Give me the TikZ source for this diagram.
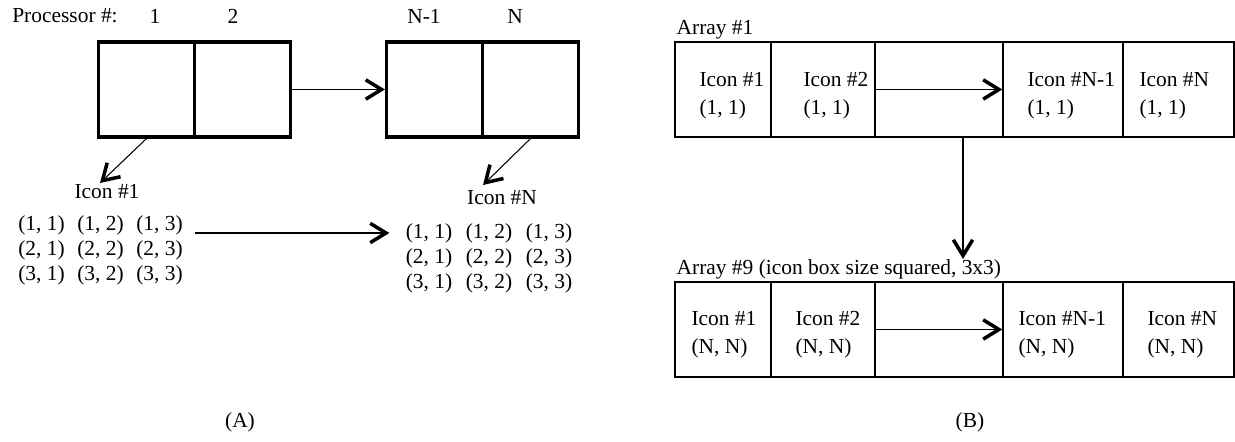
\documentclass[tikz,border=0pt]{standalone}
\usepackage{fontspec}
\setmainfont{Liberation Serif}
\usetikzlibrary{arrows.meta}
\tikzset{>={Straight Barb[length=9pt,width=11pt,line width=2pt]}}
\tikzset{
  procbox/.style={draw, line width=1.8pt, minimum width=1.92cm, minimum height=1.9cm, inner sep=0pt},
  cellbox/.style={draw, line width=0.75pt, minimum height=1.9cm, inner sep=0pt},
  celltext/.style={align=left, anchor=west, inner sep=0pt},
  arrlabel/.style={anchor=south west, inner sep=1pt},
}

\begin{document}
\begin{tikzpicture}[x=0.02cm, y=-0.02cm, font=\fontsize{12.2}{16}\selectfont, line width=0.6pt]
  \useasboundingbox (0,0) rectangle (1235,442);
  % (A) one icon per processor
  \node (proc) at (65,16) {Processor \#:};
  \node (n1) at (155,16) {1};
  \node (n2) at (233,16) {2};
  \node (nm) at (424,16) {N-1};
  \node (nn) at (515,16) {N};
  \node[procbox] (p1) at (146.5,89.5) {};
  \node[procbox] (p2) at (242.5,89.5) {};
  \node[procbox] (pm) at (434.5,89.5) {};
  \node[procbox] (pn) at (530.5,89.5) {};
  \draw[->] (p2.east) -- (pm.west);
  \node (ic1) at (107,192) {Icon \#1};
  \node (icn) at (502,198) {Icon \#N};
  \coordinate (t1) at (100,183);
  \coordinate (tn) at (483,185);
  \draw[->] (p1.south) -- (t1);
  \draw[->] (pn.south) -- (tn);
  \foreach \r in {1,2,3}
    \foreach \c in {1,2,3} {
      \node (a\r\c) at ({41.5+59*(\c-1)},{225+25*(\r-1)}) {(\r, \c)};
      \node (b\r\c) at ({429+60*(\c-1)},{233+25*(\r-1)}) {(\r, \c)};
    }
  \coordinate (s) at (195,233);
  \draw[->] (s) -- ([xshift=-0.2cm]b11.west);
  \node (capA) at (240,422) {(A)};
  % (B) one array per pixel of the icon
  \node[cellbox, minimum width=1.92cm] (c1) at (723,89.5) {};
  \node[cellbox, minimum width=2.08cm] (c2) at (823,89.5) {};
  \node[cellbox, minimum width=2.56cm] (c3) at (939,89.5) {};
  \node[cellbox, minimum width=2.40cm] (c4) at (1063,89.5) {};
  \node[cellbox, minimum width=2.22cm] (c5) at (1178.5,89.5) {};
  \node[arrlabel] (arr1) at (c1.north west) {Array \#1};
  \node[celltext] (c1t) at (699,96) {Icon \#1\\(1, 1)};
  \node[celltext] (c2t) at (803,96) {Icon \#2\\(1, 1)};
  \node[celltext] (c4t) at (1027,96) {Icon \#N-1\\(1, 1)};
  \node[celltext] (c5t) at (1139,96) {Icon \#N\\(1, 1)};
  \draw[->] (c3.west) -- (c4.west);

  \node[cellbox, minimum width=1.92cm] (d1) at (723,329.5) {};
  \node[cellbox, minimum width=2.08cm] (d2) at (823,329.5) {};
  \node[cellbox, minimum width=2.56cm] (d3) at (939,329.5) {};
  \node[cellbox, minimum width=2.40cm] (d4) at (1063,329.5) {};
  \node[cellbox, minimum width=2.22cm] (d5) at (1178.5,329.5) {};
  \node[arrlabel] (arr9) at (d1.north west) {Array \#9 (icon box size squared, 3x3)};
  \node[celltext] (d1t) at (691,335) {Icon \#1\\(N, N)};
  \node[celltext] (d2t) at (795,335) {Icon \#2\\(N, N)};
  \node[celltext] (d4t) at (1018,335) {Icon \#N-1\\(N, N)};
  \node[celltext] (d5t) at (1147,335) {Icon \#N\\(N, N)};
  \draw[->] (d3.west) -- (d4.west);
  \coordinate (dn) at (963,259);
  \draw[->] (c3.south -| dn) -- (dn);
  \node (capB) at (970,422) {(B)};
\end{tikzpicture}
\end{document}
